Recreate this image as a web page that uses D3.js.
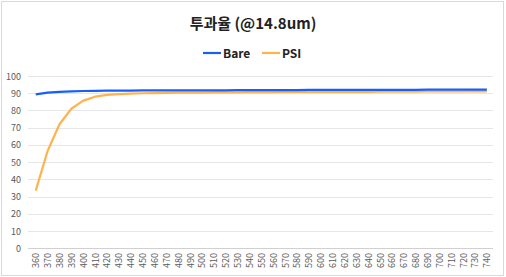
<!DOCTYPE html>
<html>
<head>
<meta charset="utf-8">
<script src="https://cdn.jsdelivr.net/npm/d3@7"></script>
<style>
  body { margin: 0; background: #fff; }
  text { font-family: "Noto Sans CJK KR", "Noto Sans", sans-serif; }
</style>
</head>
<body>
<script>
// data
var wavelengths = d3.range(360, 741, 10).map(String);
var bare = [89.3, 90.3, 90.8, 91.1, 91.3, 91.4, 91.5, 91.5, 91.5, 91.6, 91.6, 91.6, 91.7, 91.7, 91.7,
            91.7, 91.7, 91.8, 91.8, 91.8, 91.8, 91.8, 91.8, 91.9, 91.9, 91.9, 91.9, 91.9, 92.0, 92.0,
            92.0, 92.0, 92.0, 92.1, 92.1, 92.1, 92.1, 92.1, 92.1];
var psi = [33.5, 56.5, 72.0, 81.0, 85.7, 88.0, 89.0, 89.5, 89.8, 90.0, 90.1, 90.2, 90.3, 90.4, 90.4,
           90.5, 90.5, 90.5, 90.6, 90.6, 90.6, 90.7, 90.7, 90.7, 90.7, 90.8, 90.8, 90.8, 90.8, 90.9,
           90.9, 90.9, 90.9, 91.0, 91.0, 91.0, 91.0, 91.1, 91.1];
var yTicks = d3.range(0, 101, 10);

var w = 506, h = 277;
var svg = d3.select("body").append("svg").attr("width", w).attr("height", h);

svg.append("rect").attr("x", 1.5).attr("y", 1.5).attr("width", w - 4).attr("height", h - 3)
  .attr("fill", "#fff").attr("stroke", "#d9d9d9");

svg.append("text").attr("x", 253).attr("y", 29).attr("text-anchor", "middle")
  .attr("font-size", 15).attr("font-weight", "bold").attr("fill", "#222")
  .text("투과율 (@14.8um)");

var x = d3.scaleBand().domain(wavelengths).range([29.8, 492.8]);
var y = d3.scaleLinear().domain([0, 100]).range([248.3, 76]);

// gridlines
svg.append("g").selectAll("line").data(yTicks).enter().append("line")
  .attr("x1", 28).attr("x2", 493)
  .attr("y1", function(d) { return Math.round(y(d)) + 0.5; })
  .attr("y2", function(d) { return Math.round(y(d)) + 0.5; })
  .attr("stroke", function(d) { return d === 0 ? "#d0d0d0" : "#e6e6e6"; });

svg.append("g").selectAll("text").data(yTicks).enter().append("text")
  .attr("x", 21).attr("y", function(d) { return y(d) + 3.5; })
  .attr("text-anchor", "end").attr("font-size", 9).attr("fill", "#595959")
  .text(function(d) { return d; });

svg.append("g").selectAll("text").data(wavelengths).enter().append("text")
  .attr("transform", function(d) {
    return "translate(" + (x(d) + x.bandwidth() / 2 + 3.5) + ",253) rotate(-90)";
  })
  .attr("text-anchor", "end").attr("font-size", 9).attr("fill", "#595959")
  .text(function(d) { return d; });

var line = d3.line()
  .x(function(d, i) { return x(wavelengths[i]) + x.bandwidth() / 2; })
  .y(function(d) { return y(d); });

svg.append("path").datum(psi).attr("d", line)
  .attr("fill", "none").attr("stroke", "#ffb34f").attr("stroke-width", 2.2)
  .attr("stroke-linejoin", "round");
svg.append("path").datum(bare).attr("d", line)
  .attr("fill", "none").attr("stroke", "#1a5ff5").attr("stroke-width", 2.2)
  .attr("stroke-linejoin", "round");

// legend
var legend = [["Bare", "#1a5ff5", 203], ["PSI", "#ffb34f", 262]];
legend.forEach(function(l) {
  svg.append("line").attr("x1", l[2]).attr("x2", l[2] + 18).attr("y1", 53).attr("y2", 53)
    .attr("stroke", l[1]).attr("stroke-width", 2.2);
  svg.append("text").attr("x", l[2] + 20).attr("y", 57.5)
    .attr("font-size", 12).attr("font-weight", "bold").attr("fill", "#222").text(l[0]);
});
</script>
</body>
</html>
